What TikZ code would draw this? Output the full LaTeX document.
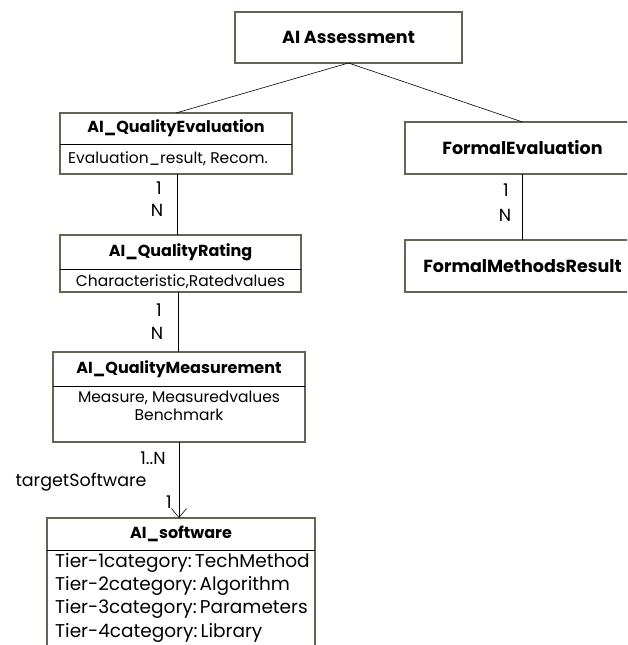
\documentclass[tikz,border=0pt]{standalone}
\usepackage{fontspec}
\setmainfont{Poppins}
\usetikzlibrary{positioning,arrows.meta}

\definecolor{framegrey}{RGB}{96,102,84}

\tikzset{
  hdr/.style={font=\fontsize{16}{18}\selectfont\bfseries, inner sep=0pt, outer sep=0pt, anchor=north west},
  bighdr/.style={hdr, font=\fontsize{17.5}{20}\selectfont\bfseries},
  attrbox/.style={inner sep=0pt, outer sep=0pt, anchor=north west},
  attr/.style={font=\fontsize{15.5}{18}\selectfont, inner sep=0pt, align=center},
  frame/.style={draw=framegrey, line width=1.6pt},
  splitline/.style={draw=black, line width=0.6pt},
  link/.style={draw=black, line width=0.6pt},
  mult/.style={font=\fontsize{17.5}{20}\selectfont, inner sep=0pt}
}

\begin{document}
\begin{tikzpicture}[x=1pt,y=-1pt]
\useasboundingbox (0,0) rectangle (627,645);
\clip (0,0) rectangle (627,645);

% top node
\node[bighdr, minimum width=227pt, minimum height=51pt] (assess) at (235,12) {AI Assessment};
\draw[frame] (assess.north west) rectangle (assess.south east);

% quality branch
\node[hdr, minimum width=232pt, minimum height=31pt] (qeval) at (60,113) {AI\_QualityEvaluation};
\node[attrbox, minimum width=232pt, minimum height=30pt] (qevalattr) at (qeval.south west) {};
\node[attr, anchor=west] (qevaltext) at ([xshift=8pt]qevalattr.west) {Evaluation\_result, Recom.};
\draw[frame] (qeval.north west) rectangle (qevalattr.south east);
\draw[splitline] (qeval.south west) -- (qeval.south east);

\node[hdr, minimum width=241pt, minimum height=34pt] (qrate) at (60,235) {AI\_QualityRating};
\node[attrbox, minimum width=241pt, minimum height=23pt] (qrateattr) at (qrate.south west) {};
\node[attr] (qratetext) at ([yshift=-1pt]qrateattr.center) {Characteristic,Ratedvalues};
\draw[frame] (qrate.north west) rectangle (qrateattr.south east);
\draw[splitline] (qrate.south west) -- (qrate.south east);

\node[hdr, minimum width=252pt, minimum height=34pt] (qmeas) at (53,352) {AI\_QualityMeasurement};
\node[attrbox, minimum width=252pt, minimum height=56pt] (qmeasattr) at (qmeas.south west) {};
\node[attr, anchor=north, below=5pt of qmeasattr.north] (qmeastext) {Measure, Measuredvalues\\Benchmark};
\draw[frame] (qmeas.north west) rectangle (qmeasattr.south east);
\draw[splitline] (qmeas.south west) -- (qmeas.south east);

\node[hdr, minimum width=268pt, minimum height=32pt] (soft) at (47,518) {AI\_software};
\node[attrbox, minimum width=268pt, minimum height=110pt] (softattr) at (soft.south west) {};
\node[attr, font=\fontsize{18.5}{23.3}\selectfont, align=left, anchor=north west] (softtext) at ([xshift=8pt,yshift=-3pt]softattr.north west)
  {Tier-1category:\,TechMethod\\Tier-2category:\,Algorithm\\Tier-3category:\,Parameters\\Tier-4category:\,Library};
\draw[frame] (soft.north west) rectangle (softattr.south east);
\draw[splitline] (soft.south west) -- (soft.south east);

% formal branch
\node[bighdr, minimum width=235pt, minimum height=52pt] (formal) at (405,122) {FormalEvaluation};
\draw[frame] (formal.north west) rectangle (formal.south east);

\node[bighdr, minimum width=235pt, minimum height=52pt] (fmres) at (405,240) {FormalMethodsResult};
\draw[frame] (fmres.north west) rectangle (fmres.south east);

% connectors
\draw[link] (assess.south) -- (qeval.north);
\draw[link] (assess.south) -- (formal.north);
\draw[link] ([xshift=1pt]qevalattr.south) -- ([xshift=1pt]qevalattr.south |- qrate.north);
\draw[link] ([xshift=-2pt]qrateattr.south) -- ([xshift=-2pt]qrateattr.south |- qmeas.north);
\draw[link] (formal.south) -- (fmres.north);
\draw[link, -{Straight Barb[length=9pt,width=15pt]}] (qmeasattr.south) -- (qmeasattr.south |- soft.north);

% multiplicities
\node[mult] (m1a) at (159,188) {1};
\node[mult] (m1b) at (157,210) {N};
\node[mult] (m2a) at (159,310) {1};
\node[mult] (m2b) at (157,333) {N};
\node[mult] (m3a) at (506,190) {1};
\node[mult] (m3b) at (505,215) {N};
\node[mult] (m4a) at (153,458) {1..N};
\node[mult] (role) at (81,482) {targetSoftware};
\node[mult] (m4b) at (169,502) {1};
\end{tikzpicture}
\end{document}
